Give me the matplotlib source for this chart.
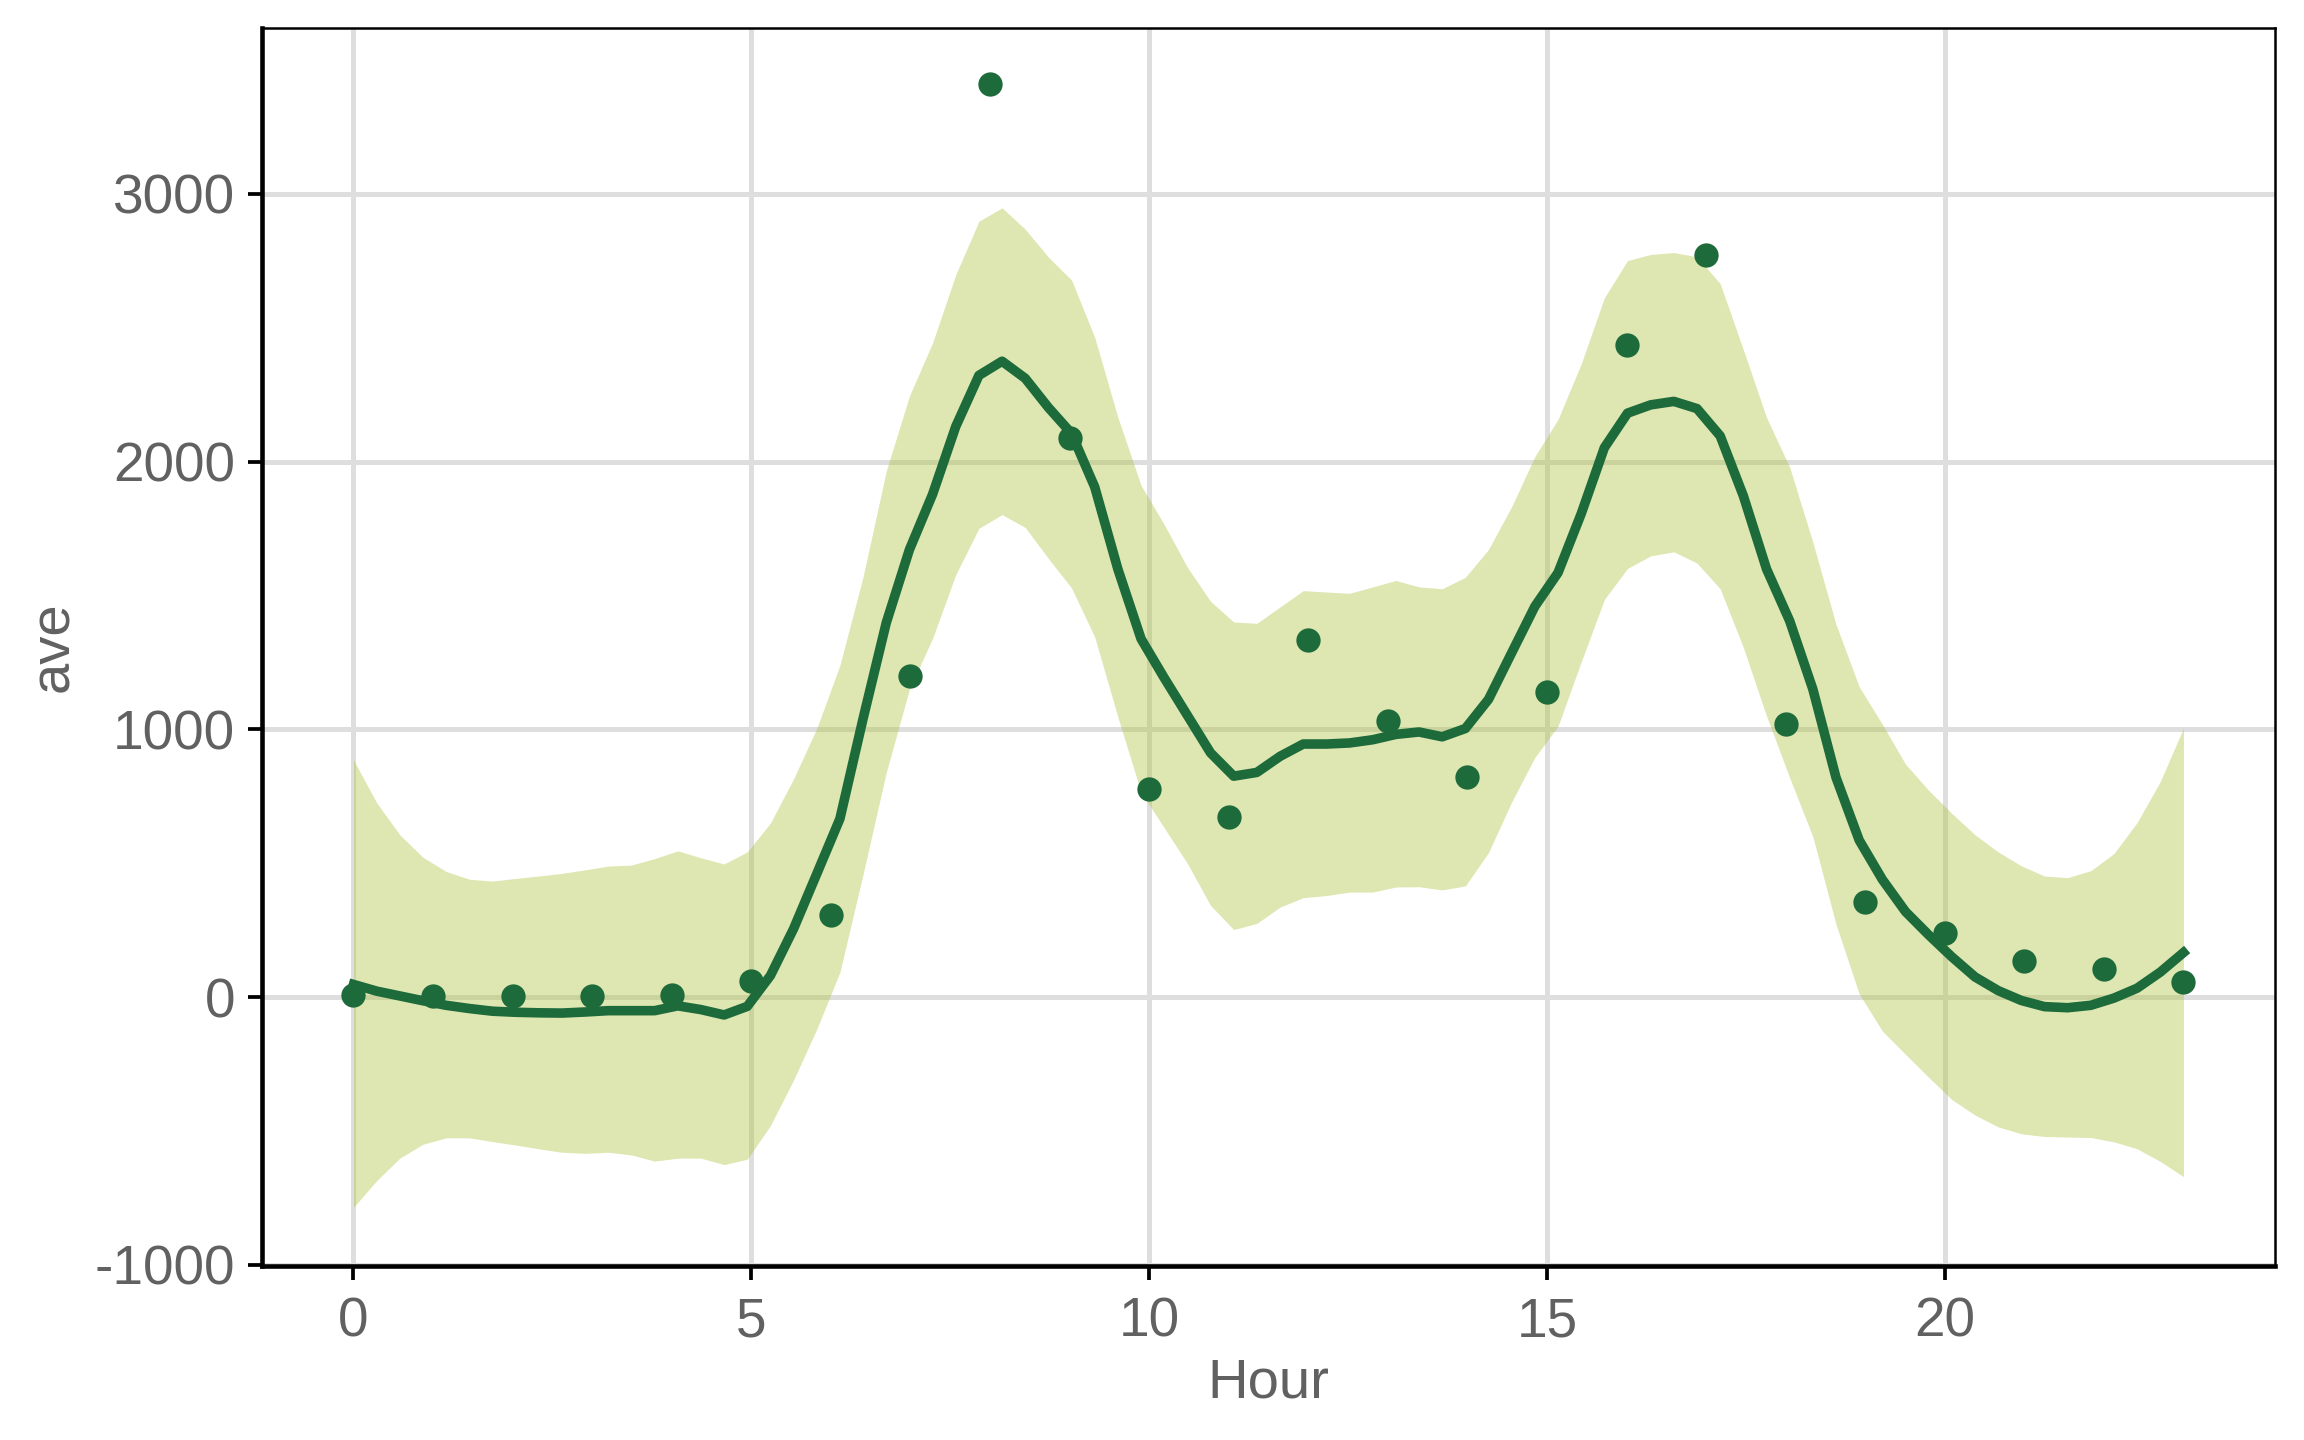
import numpy as np
import matplotlib
matplotlib.use("Agg")
import matplotlib.pyplot as plt

plt.rcParams['font.family'] = ['Liberation Sans', 'DejaVu Sans']
plt.rcParams['axes.unicode_minus'] = False

# hourly averages
hours = list(range(24))
ave = [9, 5, 4, 3, 9, 61, 306, 1198, 3410, 2088, 776, 672,
       1334, 1030, 823, 1141, 2434, 2772, 1020, 356, 239, 134, 105, 56]

# loess fit evaluated on 80 points across 0..23, with its confidence band
fit_x = np.linspace(0, 23, 80)
fit = [47, 22, 4, -14, -31, -43, -53, -57, -59, -60,
       -56, -51, -51, -51, -33, -47, -67, -35, 80, 255,
       460, 666, 1040, 1398, 1671, 1878, 2131, 2322, 2375, 2311,
       2202, 2105, 1905, 1598, 1338, 1192, 1052, 912, 825, 839,
       899, 945, 945, 949, 961, 981, 990, 972, 1003, 1112,
       1286, 1459, 1585, 1805, 2052, 2181, 2212, 2225, 2198, 2096,
       1872, 1599, 1405, 1150, 820, 586, 439, 319, 232, 150,
       75, 24, -13, -36, -40, -31, -4, 33, 93, 166]
fit_lo = [-786, -686, -602, -550, -526, -526, -540, -553, -567, -580,
          -584, -580, -590, -613, -602, -602, -626, -606, -480, -310,
          -120, 93, 459, 839, 1150, 1340, 1578, 1751, 1802, 1754,
          1638, 1528, 1345, 1045, 765, 632, 499, 342, 252, 275,
          336, 371, 379, 392, 392, 411, 412, 400, 415, 540,
          729, 895, 1012, 1252, 1485, 1601, 1648, 1663, 1621, 1525,
          1306, 1050, 819, 599, 272, 12, -127, -214, -300, -383,
          -441, -485, -511, -521, -523, -525, -541, -567, -614, -671]
fit_hi = [886, 726, 606, 522, 469, 440, 433, 443, 452, 462,
          475, 489, 493, 517, 546, 520, 497, 542, 650, 815,
          1003, 1240, 1570, 1965, 2245, 2444, 2698, 2898, 2948, 2868,
          2764, 2678, 2464, 2165, 1911, 1765, 1605, 1478, 1401, 1396,
          1457, 1518, 1513, 1508, 1532, 1556, 1532, 1525, 1568, 1672,
          1832, 2019, 2158, 2365, 2612, 2751, 2774, 2781, 2765, 2665,
          2418, 2165, 1979, 1699, 1392, 1159, 1019, 870, 772, 686,
          606, 542, 490, 452, 446, 472, 536, 652, 805, 1005]

dark_green = '#1D6A3B'
band_color = '#ADC340'
text_grey = '#616161'

fig = plt.figure(figsize=(7.68, 4.8), dpi=300)
ax = fig.add_axes([0.1137, 0.1208, 0.8737, 0.8598])

ax.fill_between(fit_x, fit_lo, fit_hi, color=band_color, alpha=0.4,
                linewidth=0, zorder=2)
ax.scatter(hours, ave, s=34, color=dark_green, linewidths=0, zorder=3)
ax.plot(fit_x, fit, color=dark_green, linewidth=2.3, zorder=4)

ax.set_xlim(-1.15, 24.15)
ax.set_ylim(-1005, 3620)
ax.set_xticks([0, 5, 10, 15, 20])
ax.set_yticks([-1000, 0, 1000, 2000, 3000])

ax.grid(True, color='#DEDEDE', linewidth=1.2, zorder=1)
ax.set_axisbelow(True)

for side in ['left', 'bottom']:
    ax.spines[side].set_linewidth(1.1)
for side in ['top', 'right']:
    ax.spines[side].set_linewidth(0.6)
for sp in ax.spines.values():
    sp.set_color('black')

ax.tick_params(axis='both', length=3.4, width=0.9, color='black',
               labelsize=13.2, labelcolor=text_grey, pad=3)
ax.tick_params(axis='x', pad=4)

ax.set_xlabel('Hour', fontsize=13.5, color=text_grey, labelpad=2)
ax.set_ylabel('ave', fontsize=13.5, color=text_grey, labelpad=3.5)

fig.savefig('out.png', dpi=300)
